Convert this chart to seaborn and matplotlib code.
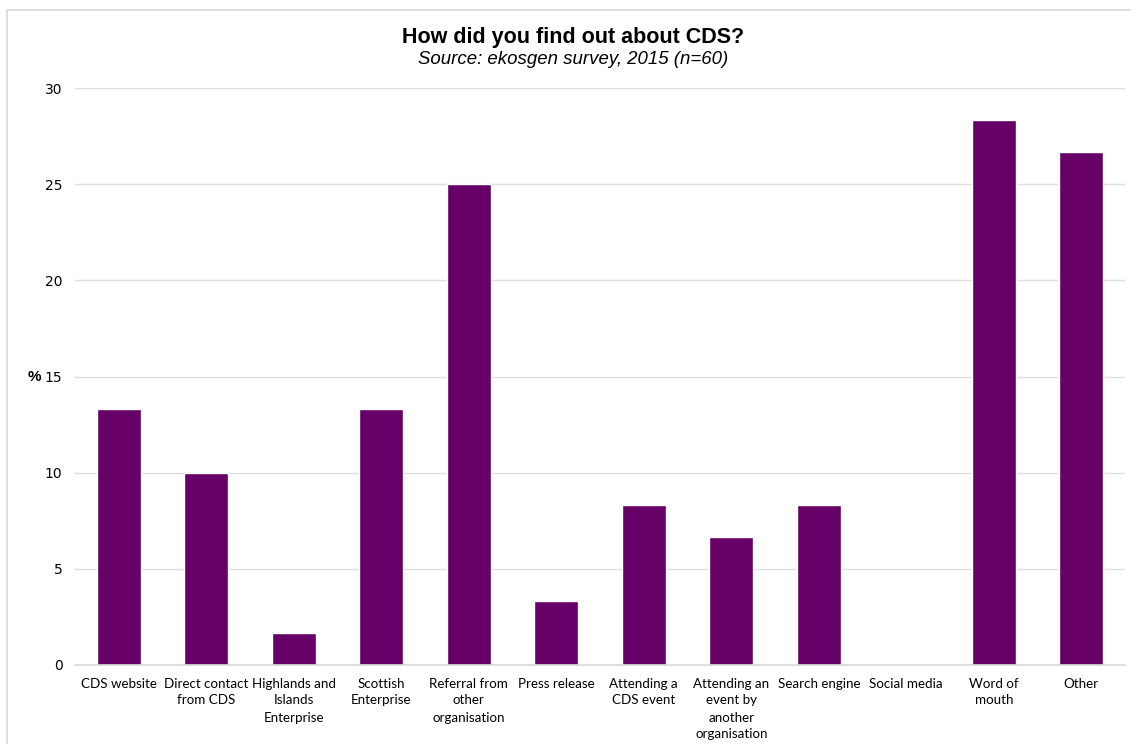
import matplotlib
matplotlib.use("Agg")
import matplotlib.pyplot as plt
import seaborn as sns
import pandas as pd
from matplotlib.patches import Rectangle

categories = ["CDS website", "Direct contact from CDS", "Highlands and Islands Enterprise",
              "Scottish Enterprise", "Referral from other organisation", "Press release",
              "Attending a CDS event", "Attending an event by another organisation",
              "Search engine", "Social media", "Word of mouth", "Other"]
tick_labels = ["CDS website", "Direct contact\nfrom CDS", "Highlands and\nIslands\nEnterprise",
               "Scottish\nEnterprise", "Referral from\nother\norganisation", "Press release",
               "Attending a\nCDS event", "Attending an\nevent by\nanother\norganisation",
               "Search engine", "Social media", "Word of\nmouth", "Other"]
values = [13.33, 10.0, 1.67, 13.33, 25.0, 3.33, 8.33, 6.67, 8.33, 0.0, 28.33, 26.67]
yticks = [0, 5, 10, 15, 20, 25, 30]

sns.set_theme(style="white")
plt.rcParams['font.family'] = ['Lato', 'DejaVu Sans']
plt.rcParams['text.color'] = 'black'
plt.rcParams['xtick.color'] = 'black'
plt.rcParams['ytick.color'] = 'black'
plt.rcParams['axes.labelcolor'] = 'black'

fig = plt.figure(figsize=(11.31, 7.44), dpi=100)
L, R, B, T = 75, 1125, 665, 88
ax = fig.add_axes([L/1131, 1-B/744, (R-L)/1131, (B-T)/744])

df = pd.DataFrame({"cat": categories, "val": values})
sns.barplot(data=df, x="cat", y="val", color="#660066", saturation=1, width=0.5, ax=ax)

ax.set_ylim(0, 30)
ax.set_yticks(yticks)
ax.set_yticklabels([str(t) for t in yticks], fontsize=10, family=['DejaVu Sans'])
ax.set_xticks(range(len(categories)))
ax.set_xticklabels(tick_labels, fontsize=9.6, linespacing=1.5)
ax.tick_params(axis='x', length=0, pad=9)
ax.tick_params(axis='y', length=0, pad=9)
ax.set_xlim(-0.5, len(categories) - 0.5)
ax.grid(axis='y', color='#e0e0e0', linewidth=1)
ax.set_axisbelow(True)
for s in ['top', 'right', 'left']:
    ax.spines[s].set_visible(False)
ax.spines['bottom'].set_color('#d9d9d9')
ax.spines['bottom'].set_linewidth(1.2)
ax.set_xlabel("")
ax.set_ylabel("%", fontsize=11, fontweight='bold', rotation=0, family=['Liberation Sans'],
              ha='center', va='center')
ax.yaxis.set_label_coords((34 - L)/(R - L), (B - 377)/(B - T))

fig.text(573/1131, 1-37/744, "How did you find out about CDS?", ha='center', va='center',
         fontsize=15.5, fontweight='bold', family=['Liberation Sans'])
fig.text(573/1131, 1-60/744, "Source: ekosgen survey, 2015 (n=60)", ha='center', va='center',
         fontsize=13.4, style='italic', family=['Liberation Sans'])

fig.patches.append(Rectangle((7/1131, -0.05), 1.2, 1-10/744+0.05, transform=fig.transFigure,
                             fill=False, edgecolor='#d9d9d9', linewidth=1.2))

fig.savefig("out.png", dpi=100)
